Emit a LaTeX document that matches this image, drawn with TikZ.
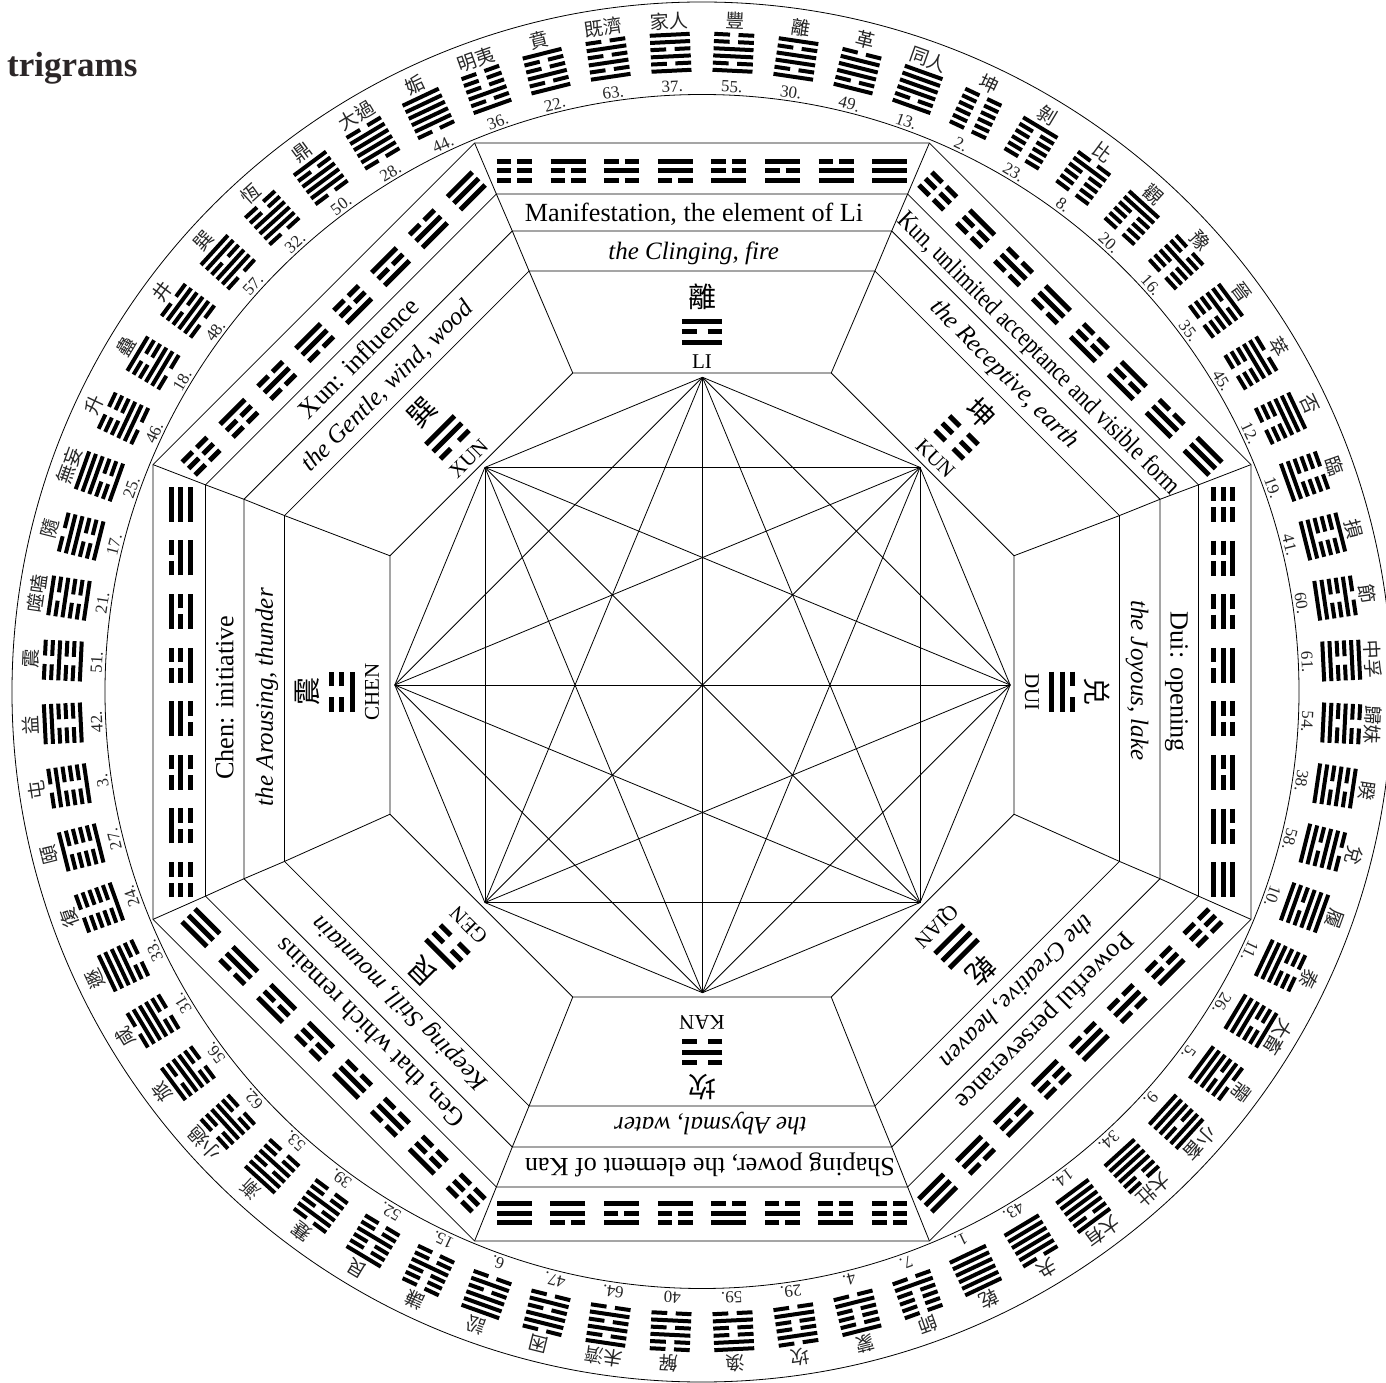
\documentclass[tikz,border=0pt]{standalone}
\usepackage{fontspec}
\setmainfont{Liberation Serif}
\newfontfamily\cjk{Noto Sans CJK TC}
\usetikzlibrary{calc}
\definecolor{titleink}{HTML}{2B2627}

\tikzset{
every node/.style={inner sep=0pt},
thinline/.style={line width=.8pt},
hexbar/.style={line width=4pt},
bandbar/.style={line width=5pt},
coreBar/.style={line width=5pt},
hexnum/.style={font=\fontsize{17}{17}\selectfont,text=black!85},
hexname/.style={font=\cjk\fontsize{19}{19}\selectfont,text=black!85},
corename/.style={font=\cjk\fontsize{28}{28}\selectfont},
corelatin/.style={font=\fontsize{21}{21}\selectfont},
bandtext/.style={font=\fontsize{26.2}{27}\selectfont,text height=20pt,text depth=3pt},
banditalic/.style={font=\itshape\fontsize{25}{26}\selectfont,text height=20pt,text depth=3pt}
}

% #1 lines from bottom to top, #2 width, #3 gap, #4 pitch
\newcommand{\guafig}[4]{
\foreach \v [count=\n] in #1 {
\pgfmathsetmacro{\yy}{(\n-1)*#4}
\ifnum\v=1
\draw (-#2/2,\yy)--(#2/2,\yy);
\else
\draw (-#2/2,\yy)--(-#3/2,\yy);
\draw (#3/2,\yy)--(#2/2,\yy);
\fi
}}

\begin{document}
\begin{tikzpicture}[x=1pt,y=1pt]
\useasboundingbox (-702,-691) rectangle (684,692);
\clip (-702,-691) rectangle (684,692);

\node[font=\bfseries\fontsize{35}{35}\selectfont,text=titleink,anchor=base west] (title) at (-695,615) {trigrams};

\draw[thinline] (0,0) circle[radius=690pt];
\draw[thinline] (0,.5) circle[radius=597pt];

% the eight-sided rings
\foreach \ring/\dy/\apo in {A/0/549,B/1.5/496.5,C/3/458,D/3.5/417.5,E/7/312} {
\foreach \k in {0,...,7} {
\pgfmathsetmacro{\ang}{112.5-45*\k}
\pgfmathsetmacro{\rad}{\apo/cos(22.5)}
\coordinate (\ring\k) at ($(0,\dy)+(\ang:\rad)$);
}
\draw[thinline] (\ring0)--(\ring1)--(\ring2)--(\ring3)--(\ring4)--(\ring5)--(\ring6)--(\ring7)--cycle;
}
\foreach \k in {0,...,7} {
\draw[thinline] (A\k)--(B\k)--(C\k)--(D\k)--(E\k);
}

% star in the middle
\foreach \k in {0,...,7} {
\pgfmathsetmacro{\ang}{90-45*\k}
\coordinate (S\k) at ($(.5,7)+(\ang:307.7)$);
}
\foreach \p in {0,...,6} {
\pgfmathtruncatemacro{\qq}{\p+1}
\foreach \q in {\qq,...,7} {
\draw[thinline] (S\p)--(S\q);
}}

% the eight sides
\foreach \k/\nm/\lat/\pat/\txta/\txtb in {
0/離/LI/{1,0,1}/{Manifestation, the element of Li}/{the Clinging, fire},
1/坤/KUN/{0,0,0}/{\hspace*{16pt}\resizebox{388pt}{\height}{Kun, unlimited acceptance and visible form}}/{the Receptive, earth},
2/兑/DUI/{1,1,0}/{Dui: opening}/{the Joyous, lake},
3/乾/QIAN/{1,1,1}/{Powerful perseverance}/{the Creative, heaven},
4/坎/KAN/{0,1,0}/{Shaping power, the element of Kan}/{the Abysmal, water},
5/艮/GEN/{0,0,1}/{Gen, that which remains}/{Keeping Still, mountain},
6/震/CHEN/{1,0,0}/{Chen: initiative}/{the Arousing, thunder},
7/巽/XUN/{0,1,1}/{Xun: influence}/{the Gentle, wind, wood}} {
\pgfmathsetmacro{\rot}{-45*\k}
\pgfmathsetmacro{\ang}{90-45*\k}
\pgfmathtruncatemacro{\nx}{mod(\k+1,8)}
\node[bandtext,rotate=\rot] (bandA\k) at ($(B\k)!.5!(C\nx)$) {\txta};
\node[banditalic,rotate=\rot] (bandB\k) at ($(C\k)!.5!(D\nx)$) {\txtb};
\node[corelatin,rotate=\rot] (lat\k) at (\ang:330) {\lat};
\node[corename,rotate=\rot] (core\k) at (\ang:395) {\nm};
\begin{scope}[rotate=\rot,shift={(0,349.7)},coreBar]
\guafig{\pat}{40.5}{11}{10.3}
\end{scope}
\foreach \pp [count=\j from 0] in {{0,0,0},{0,0,1},{0,1,0},{0,1,1},{1,0,0},{1,0,1},{1,1,0},{1,1,1}} {
\begin{scope}[rotate=\rot,shift={(-187.5+53.6*\j,511.9)},bandbar]
\guafig{\pp}{35}{6}{9.1}
\end{scope}
}
}

% the sixty-four around
\foreach \num/\nm/\pat [count=\i from 0] in {
55./豐/{1,0,1,1,0,0},30./離/{1,0,1,1,0,1},49./革/{1,0,1,1,1,0},13./同人/{1,0,1,1,1,1},
2./坤/{0,0,0,0,0,0},23./剝/{0,0,0,0,0,1},8./比/{0,0,0,0,1,0},20./觀/{0,0,0,0,1,1},
16./豫/{0,0,0,1,0,0},35./晉/{0,0,0,1,0,1},45./萃/{0,0,0,1,1,0},12./否/{0,0,0,1,1,1},
19./臨/{1,1,0,0,0,0},41./損/{1,1,0,0,0,1},60./節/{1,1,0,0,1,0},61./中孚/{1,1,0,0,1,1},
54./歸妹/{1,1,0,1,0,0},38./睽/{1,1,0,1,0,1},58./兌/{1,1,0,1,1,0},10./履/{1,1,0,1,1,1},
11./泰/{1,1,1,0,0,0},26./大畜/{1,1,1,0,0,1},5./需/{1,1,1,0,1,0},9./小畜/{1,1,1,0,1,1},
34./大壯/{1,1,1,1,0,0},14./大有/{1,1,1,1,0,1},43./夬/{1,1,1,1,1,0},1./乾/{1,1,1,1,1,1},
7./師/{0,1,0,0,0,0},4./蒙/{0,1,0,0,0,1},29./坎/{0,1,0,0,1,0},59./渙/{0,1,0,0,1,1},
40/解/{0,1,0,1,0,0},64./未濟/{0,1,0,1,0,1},47./困/{0,1,0,1,1,0},6./訟/{0,1,0,1,1,1},
15./謙/{0,0,1,0,0,0},52./艮/{0,0,1,0,0,1},39./蹇/{0,0,1,0,1,0},53./漸/{0,0,1,0,1,1},
62./小過/{0,0,1,1,0,0},56./旅/{0,0,1,1,0,1},31./咸/{0,0,1,1,1,0},33./遯/{0,0,1,1,1,1},
24./復/{1,0,0,0,0,0},27./頤/{1,0,0,0,0,1},3./屯/{1,0,0,0,1,0},42./益/{1,0,0,0,1,1},
51./震/{1,0,0,1,0,0},21./噬嗑/{1,0,0,1,0,1},17./隨/{1,0,0,1,1,0},25./無妄/{1,0,0,1,1,1},
46./升/{0,1,1,0,0,0},18./蠱/{0,1,1,0,0,1},48./井/{0,1,1,0,1,0},57./巽/{0,1,1,0,1,1},
32./恆/{0,1,1,1,0,0},50./鼎/{0,1,1,1,0,1},28./大過/{0,1,1,1,1,0},44./姤/{0,1,1,1,1,1},
36./明夷/{1,0,1,0,0,0},22./賁/{1,0,1,0,0,1},63./既濟/{1,0,1,0,1,0},37./家人/{1,0,1,0,1,1}} {
\pgfmathsetmacro{\a}{-2.8125-5.625*\i}
\pgfmathsetmacro{\ang}{90+\a}
\node[hexnum,rotate=\a] (num\i) at (\ang:606) {\num};
\node[hexname,rotate=\a] (name\i) at (\ang:672) {\nm};
\begin{scope}[rotate=\a,shift={(0,622)},hexbar]
\guafig{\pat}{40}{8.5}{7.2}
\end{scope}
}
\end{tikzpicture}
\end{document}
